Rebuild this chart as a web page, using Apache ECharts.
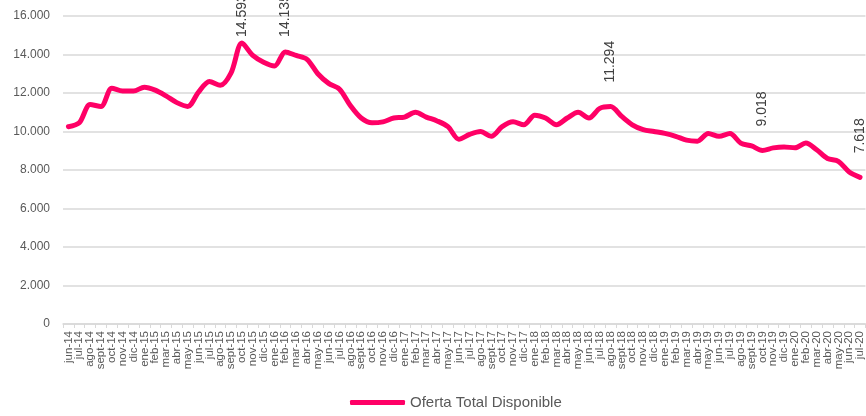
<!DOCTYPE html>
<html>
<head>
<meta charset="utf-8">
<script src="https://cdn.jsdelivr.net/npm/echarts@6/dist/echarts.min.js"></script>
<style>
  html, body { margin: 0; padding: 0; background: #fff; }
  #chart { width: 866px; height: 416px; }
</style>
</head>
<body>
<div id="chart"></div>
<script>
// months jun-14 .. jul-20
const months = [
  "jun-14", "jul-14", "ago-14", "sept-14", "oct-14", "nov-14", "dic-14",
  "ene-15", "feb-15", "mar-15", "abr-15", "may-15", "jun-15", "jul-15", "ago-15", "sept-15", "oct-15", "nov-15", "dic-15",
  "ene-16", "feb-16", "mar-16", "abr-16", "may-16", "jun-16", "jul-16", "ago-16", "sept-16", "oct-16", "nov-16", "dic-16",
  "ene-17", "feb-17", "mar-17", "abr-17", "may-17", "jun-17", "jul-17", "ago-17", "sept-17", "oct-17", "nov-17", "dic-17",
  "ene-18", "feb-18", "mar-18", "abr-18", "may-18", "jun-18", "jul-18", "ago-18", "sept-18", "oct-18", "nov-18", "dic-18",
  "ene-19", "feb-19", "mar-19", "abr-19", "may-19", "jun-19", "jul-19", "ago-19", "sept-19", "oct-19", "nov-19", "dic-19",
  "ene-20", "feb-20", "mar-20", "abr-20", "may-20", "jun-20", "jul-20"
];

// Oferta Total Disponible
const oferta = [
  10250, 10450, 11400, 11300, 12250, 12100, 12100,
  12300, 12150, 11850, 11500, 11300, 12050, 12600, 12400, 13050, 14593, 13950, 13600,
  13400, 14135, 13950, 13750, 13000, 12500, 12200, 11350, 10700, 10450, 10500, 10700,
  10750, 11000, 10750, 10550, 10250, 9600, 9850, 10000, 9750, 10250, 10500, 10350,
  10850, 10700, 10350, 10700, 11000, 10700, 11200, 11294, 10800, 10350, 10100, 10000,
  9900, 9750, 9550, 9500, 9900, 9750, 9900, 9400, 9250, 9018, 9150, 9200,
  9150, 9400, 9050, 8600, 8450, 7900, 7618
];

// points that carry a data label
const labelled = ["oct-15", "feb-16", "ago-18", "oct-19", "jul-20"];

const yTicks = { min: 0, max: 16000, step: 2000 };

const fmt = v => String(Math.round(v)).replace(/\B(?=(\d{3})+(?!\d))/g, ".");
const labelGap = { "oct-15": 6, "feb-16": 15 };

const chart = echarts.init(document.getElementById("chart"));

const seriesData = oferta.map((v, i) => {
  const m = months[i];
  if (!labelled.includes(m)) return v;
  return {
    value: v,
    label: {
      show: true,
      position: "top",
      distance: labelGap[m] != null ? labelGap[m] : 24,
      rotate: 90,
      align: "left",
      verticalAlign: "middle",
      formatter: p => fmt(p.value),
      color: "#404040",
      fontSize: 14,
      fontFamily: "Liberation Sans"
    }
  };
});

chart.setOption({
  animation: false,
  textStyle: { fontFamily: "Liberation Sans" },
  grid: { left: 63, top: 16, width: 806, bottom: 92, containLabel: false },
  legend: {
    bottom: 1,
    left: 345,
    icon: "roundRect",
    itemWidth: 55,
    itemHeight: 5,
    itemGap: 4,
    textStyle: { color: "#595959", fontSize: 15, fontFamily: "Liberation Sans" },
    data: ["Oferta Total Disponible"]
  },
  xAxis: {
    type: "category",
    data: months,
    boundaryGap: true,
    axisLine: { lineStyle: { color: "#D9D9D9", width: 1.5 } },
    axisTick: { show: true, length: 4, lineStyle: { color: "#D9D9D9" } },
    axisLabel: {
      interval: 0,
      rotate: 90,
      margin: 7,
      color: "#595959",
      fontSize: 11.5,
      fontFamily: "Liberation Sans"
    },
    splitLine: { show: false }
  },
  yAxis: {
    type: "value",
    min: yTicks.min,
    max: yTicks.max,
    interval: yTicks.step,
    axisLine: { show: false },
    axisTick: { show: false },
    axisLabel: {
      margin: 13,
      color: "#595959",
      fontSize: 12,
      fontFamily: "Liberation Sans",
      formatter: v => fmt(v)
    },
    splitLine: { lineStyle: { color: "#D9D9D9", width: 1.5 } }
  },
  series: [
    {
      name: "Oferta Total Disponible",
      type: "line",
      data: seriesData,
      smooth: 0.3,
      showSymbol: true,
      symbol: "circle",
      symbolSize: 0,
      label: { show: false },
      lineStyle: { color: "#FF0066", width: 5, cap: "round", join: "round" },
      itemStyle: { color: "#FF0066" }
    }
  ]
});
</script>
</body>
</html>
